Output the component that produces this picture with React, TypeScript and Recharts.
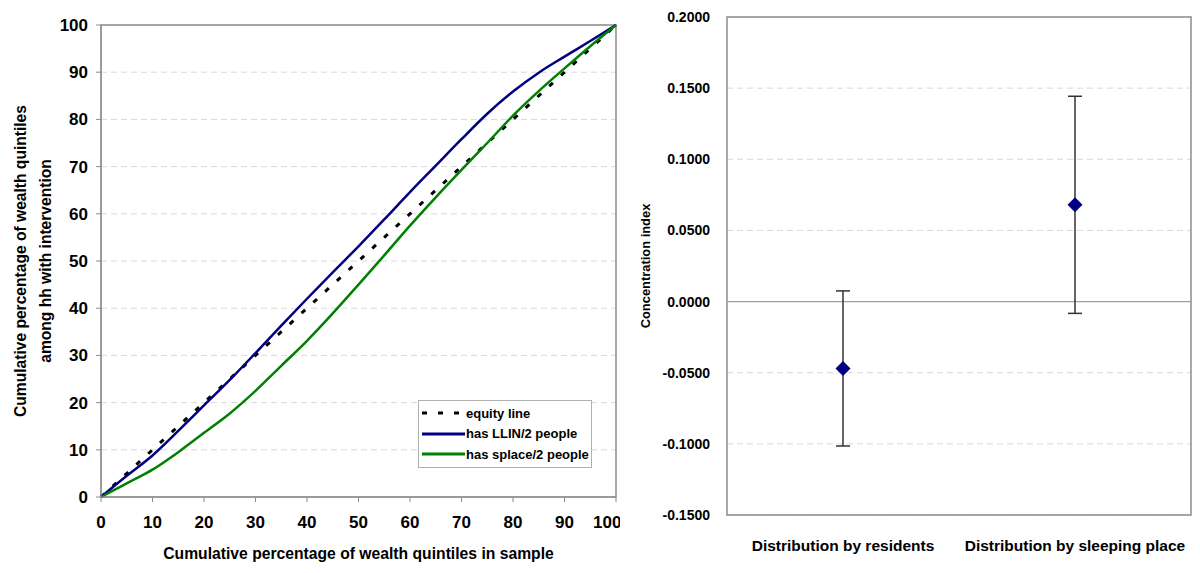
import React from 'react';
import {
  LineChart, Line, XAxis, YAxis, CartesianGrid, ReferenceArea,
  ComposedChart, Scatter, ErrorBar, ReferenceLine,
} from 'recharts';

// ---- Left chart data ----
const samplePct = [0, 5, 10, 15, 20, 25, 30, 35, 40, 45, 50, 55, 60, 65, 70, 75, 80, 85, 90, 95, 100];
const llinPct = [0, 4.5, 8.8, 14.0, 19.4, 24.8, 30.5, 36.3, 42.0, 47.6, 53.1, 58.8, 64.6, 70.2, 75.8, 81.2, 85.9, 89.9, 93.3, 96.6, 100];
const splacePct = [0, 2.9, 5.8, 9.5, 13.6, 17.7, 22.5, 27.8, 33.1, 38.9, 45.0, 51.2, 57.5, 63.5, 69.3, 75.0, 80.8, 86.0, 90.8, 95.5, 100];
const equityX = [0, 100];
const equityY = [0, 100];
const pctTicks = [0, 10, 20, 30, 40, 50, 60, 70, 80, 90, 100];
const legendLabels = ['equity line', 'has LLIN/2 people', 'has splace/2 people'];

// ---- Right chart data ----
const distCategories = ['Distribution by residents', 'Distribution by sleeping place'];
const concIndex = [-0.047, 0.068];
const concError = [0.0545, 0.0763];
const concTicks = [-0.15, -0.1, -0.05, 0, 0.05, 0.1, 0.15, 0.2];

const FONT = '"Liberation Sans", Arial, sans-serif';
const NAVY = '#000080';
const GREEN = '#008000';
const BORDER = '#8c8c8c';
const GRID = '#d9d9d9';
const EQUITY_DASH = '5 11';

const llinData = samplePct.map((x, i) => ({ x, y: llinPct[i] }));
const splaceData = samplePct.map((x, i) => ({ x, y: splacePct[i] }));
const equityData = equityX.map((x, i) => ({ x, y: equityY[i] }));
const concData = distCategories.map((name, i) => ({ name, value: concIndex[i], err: concError[i] }));

const LeftYLabel = (props: any) => {
  const vb = props.viewBox || { x: 0, y: 25, width: 101, height: 472 };
  const cy = vb.y + vb.height / 2;
  return (
    <g>
      <text x={20} y={cy} transform={`rotate(-90, 20, ${cy})`} textAnchor="middle" dominantBaseline="central"
        fontFamily={FONT} fontWeight="bold" fontSize={15.6} fill="#000">
        Cumulative percentage of wealth quintiles
      </text>
      <text x={45} y={cy} transform={`rotate(-90, 45, ${cy})`} textAnchor="middle" dominantBaseline="central"
        fontFamily={FONT} fontWeight="bold" fontSize={15.6} fill="#000">
        among hh with intervention
      </text>
    </g>
  );
};

const RightYLabel = (props: any) => {
  const vb = props.viewBox || { x: 0, y: 17, width: 107, height: 498 };
  const cy = vb.y + vb.height / 2;
  return (
    <text x={25} y={cy} transform={`rotate(-90, 25, ${cy})`} textAnchor="middle" dominantBaseline="central"
      fontFamily={FONT} fontWeight="bold" fontSize={12.9} fill="#000">
      Concentration index
    </text>
  );
};

const legendStyles = [
  { color: '#000', dash: EQUITY_DASH },
  { color: NAVY, dash: undefined },
  { color: GREEN, dash: undefined },
];

const LegendBox = () => (
  <div style={{
    position: 'absolute', left: 418, top: 400, width: 174, height: 68,
    border: '1px solid #b0b0b0', background: '#fff', boxSizing: 'border-box',
    fontFamily: FONT, fontWeight: 'bold', fontSize: 13, color: '#000', paddingTop: 2,
  }}>
    {legendLabels.map((label, i) => (
      <div key={label} style={{ display: 'flex', alignItems: 'center', height: 20.5 }}>
        <svg width={47} height={8} style={{ flex: 'none' }}>
          <line x1={3} y1={4} x2={46} y2={4} stroke={legendStyles[i].color} strokeWidth={3}
            strokeDasharray={legendStyles[i].dash} />
        </svg>
        <span style={{ whiteSpace: 'nowrap' }}>{label}</span>
      </div>
    ))}
  </div>
);

const Diamond = (props: any) => {
  const { cx, cy } = props;
  if (cx == null || cy == null) return null;
  const r = 7.5;
  return <polygon points={`${cx},${cy - r} ${cx + r},${cy} ${cx},${cy + r} ${cx - r},${cy}`} fill={NAVY} />;
};

export default function App() {
  return (
    <div style={{ position: 'absolute', left: 0, top: 0, width: 1200, height: 573, background: '#fff' }}>
      <div style={{ position: 'absolute', left: 0, top: 0 }}>
        <LineChart width={620} height={573} margin={{ top: 25, right: 4, bottom: 0, left: 0 }}>
          <CartesianGrid horizontal vertical={false} stroke={GRID} strokeDasharray="6 4" />
          <XAxis type="number" dataKey="x" domain={[0, 100]} ticks={pctTicks} allowDuplicatedCategory={false}
            height={76} stroke={BORDER} tickSize={5} tickMargin={14}
            tick={{ fontFamily: FONT, fontWeight: 'bold', fontSize: 17, fill: '#000' }}
            label={{ value: 'Cumulative percentage of wealth quintiles in sample', position: 'insideBottom', offset: 14,
              style: { fontFamily: FONT, fontWeight: 'bold', fontSize: 15.7, fill: '#000' } }} />
          <YAxis type="number" domain={[0, 100]} ticks={pctTicks} width={101} stroke={BORDER}
            tickSize={5} tickMargin={8}
            tick={{ fontFamily: FONT, fontWeight: 'bold', fontSize: 17, fill: '#000' }}
            label={<LeftYLabel />} />
          <ReferenceArea x1={0} x2={100} y1={0} y2={100} fill="none" stroke={BORDER} strokeWidth={1.5} fillOpacity={0} />
          <Line data={equityData} dataKey="y" type="linear" stroke="#000" strokeWidth={3} strokeDasharray={EQUITY_DASH}
            dot={false} isAnimationActive={false} />
          <Line data={llinData} dataKey="y" type="monotone" stroke={NAVY} strokeWidth={2.5}
            dot={false} isAnimationActive={false} />
          <Line data={splaceData} dataKey="y" type="monotone" stroke={GREEN} strokeWidth={2.5}
            dot={false} isAnimationActive={false} />
        </LineChart>
        <LegendBox />
      </div>
      <div style={{ position: 'absolute', left: 620, top: 0 }}>
        <ComposedChart width={580} height={573} data={concData} margin={{ top: 17, right: 9, bottom: 0, left: 0 }}>
          <CartesianGrid horizontal vertical={false} stroke={GRID} strokeDasharray="6 4" />
          <XAxis type="category" dataKey="name" scale="band" height={58} axisLine={false} tickLine={false}
            tickSize={0} tickMargin={25}
            tick={{ fontFamily: FONT, fontWeight: 'bold', fontSize: 15.5, fill: '#000' }} />
          <YAxis type="number" domain={[-0.15, 0.2]} ticks={concTicks} width={107} axisLine={false}
            tickLine={false} tickSize={0} tickMargin={17}
            tickFormatter={(v: number) => v.toFixed(4)}
            tick={{ fontFamily: FONT, fontWeight: 'bold', fontSize: 14, fill: '#000' }}
            label={<RightYLabel />} />
          <ReferenceLine y={0} stroke="#a0a0a0" strokeWidth={1.2} />
          <ReferenceArea y1={-0.15} y2={0.2} fill="none" fillOpacity={0} stroke={BORDER} strokeWidth={1.5} />
          <Scatter dataKey="value" fill={NAVY} shape={<Diamond />} isAnimationActive={false}>
            <ErrorBar dataKey="err" direction="y" width={7} stroke="#333" strokeWidth={1.5} />
          </Scatter>
        </ComposedChart>
      </div>
    </div>
  );
}
